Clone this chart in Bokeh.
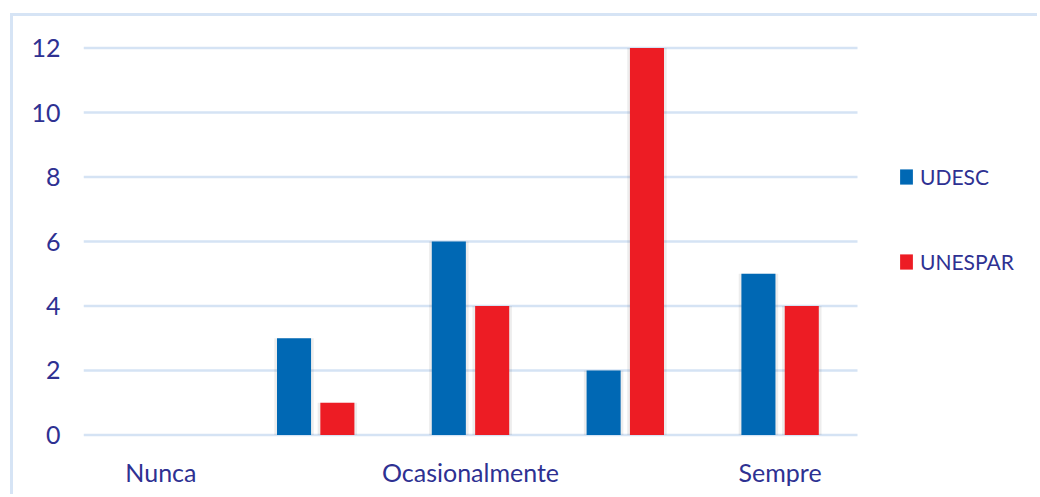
from bokeh.plotting import figure
from bokeh.models import (Range1d, FixedTicker, Legend, LegendItem, ColumnDataSource)
from bokeh.embed import file_html
from bokeh.resources import INLINE

# Response categories (only every other one is labelled on the axis)
categories = ["Nunca", "", "Ocasionalmente", "", "Sempre"]
udesc = [0, 3, 6, 2, 5]
unespar = [0, 1, 4, 12, 4]
series_names = ["UDESC", "UNESPAR"]
y_ticks = [0, 2, 4, 6, 8, 10, 12]

BLUE = "#0068b4"
RED = "#ed1c24"
TEXT = "#2e3192"
GRID = "#d5e3f4"
FONT = "Lato"

xs = list(range(len(categories)))
offset = 0.14
bar_w = 0.22

src = ColumnDataSource(dict(
    x_u=[x - offset for x in xs],
    x_e=[x + offset for x in xs],
    udesc=udesc,
    unespar=unespar,
))

# canvas layout: the plotting frame runs to the right edge so the legend
# can sit beside the bars; grid lines only span the category area
W, H = 1027, 481
LEFT = 70
CAT_PX = 154.8
x_start = -0.5
x_end = x_start + (W - LEFT) / CAT_PX

p = figure(width=W, height=H, output_backend="svg", toolbar_location=None,
           x_range=Range1d(x_start, x_end),
           y_range=Range1d(-0.08, 12.08),
           min_border_left=LEFT, min_border_right=0,
           min_border_top=29, min_border_bottom=60)
p.styles = {"margin-left": "10px", "margin-top": "13px",
            "border-left": "3px solid #d6e4f5", "border-top": "3px solid #d6e4f5"}

p.outline_line_color = None
p.background_fill_color = "white"
p.border_fill_color = "white"

# horizontal grid over the category span
n = len(y_ticks)
p.segment(x0=[-0.5] * n, x1=[len(categories) - 0.5] * n, y0=y_ticks, y1=y_ticks,
          line_color=GRID, line_width=2.5)

# soft shadow behind the bars
p.vbar(x="x_u", top="udesc", width=bar_w + 0.035, bottom=0, source=src,
       fill_color="black", fill_alpha=0.07, line_color=None)
p.vbar(x="x_e", top="unespar", width=bar_w + 0.035, bottom=0, source=src,
       fill_color="black", fill_alpha=0.07, line_color=None)

r1 = p.vbar(x="x_u", top="udesc", width=bar_w, bottom=0, source=src,
            fill_color=BLUE, line_color=None)
r2 = p.vbar(x="x_e", top="unespar", width=bar_w, bottom=0, source=src,
            fill_color=RED, line_color=None)

# axes
p.xaxis.ticker = FixedTicker(ticks=xs)
p.xaxis.major_label_overrides = {i: c for i, c in enumerate(categories)}
p.yaxis.ticker = FixedTicker(ticks=y_ticks)
for ax in (p.xaxis[0], p.yaxis[0]):
    ax.axis_line_color = None
    ax.major_tick_line_color = None
    ax.minor_tick_line_color = None
    ax.major_label_text_color = TEXT
    ax.major_label_text_font = FONT
    ax.major_label_text_font_size = "25px"
p.yaxis.major_label_standoff = 17
p.xaxis.major_label_standoff = 13

p.xgrid.grid_line_color = None
p.ygrid.grid_line_color = None

legend = Legend(items=[LegendItem(label=series_names[0], renderers=[r1]),
                       LegendItem(label=series_names[1], renderers=[r2])],
                location=(815, 163), orientation="vertical")
legend.border_line_color = None
legend.background_fill_alpha = 0
legend.padding = 0
legend.margin = 0
legend.glyph_width = 16
legend.glyph_height = 19
legend.label_height = 25
legend.spacing = 60
legend.label_standoff = 6
legend.label_text_font = FONT
legend.label_text_font_size = "21px"
legend.label_text_color = TEXT
p.add_layout(legend, "center")

open("out.html", "w").write(file_html(p, INLINE))
